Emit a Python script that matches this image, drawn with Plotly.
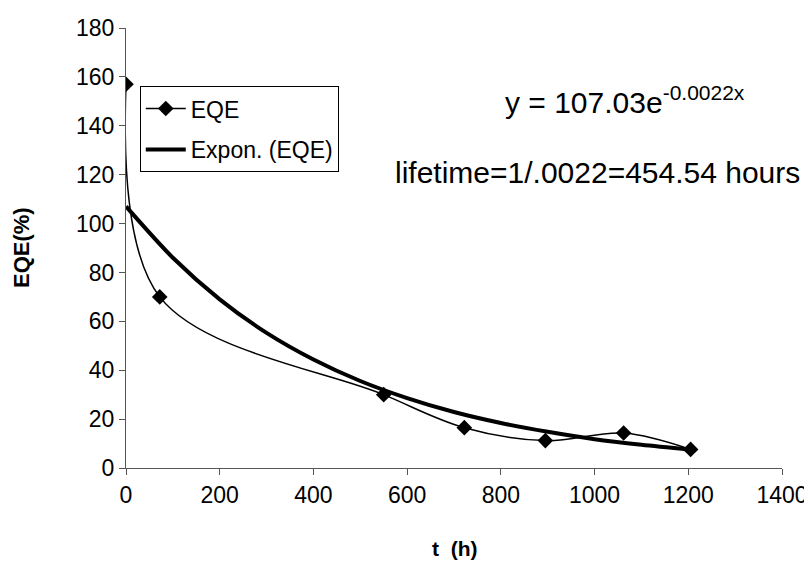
import plotly.graph_objects as go

# Measured EQE data
t_hours = [0, 72, 550, 722, 895, 1062, 1205]
eqe_pct = [157, 70, 30, 16.5, 11.2, 14.3, 7.6]

# Exponential trendline
trend_t = [0, 100, 200, 300, 400, 500, 600, 700, 800, 900, 1000, 1100, 1205]
trend_eqe = [107, 86, 69, 55.3, 44.4, 35.6, 28.6, 22.9, 18.4, 14.8, 11.8, 9.5, 7.5]

x_ticks = [0, 200, 400, 600, 800, 1000, 1200, 1400]
y_ticks = [0, 20, 40, 60, 80, 100, 120, 140, 160, 180]

FONT = "Liberation Sans, Arial, sans-serif"

fig = go.Figure()
fig.add_trace(go.Scatter(
    x=t_hours, y=eqe_pct, name="EQE", mode="lines+markers", legendgroup="a",
    line=dict(color="black", width=1.5, shape="spline", smoothing=1.0),
    marker=dict(symbol="diamond", size=12, color="black"),
))
fig.add_trace(go.Scatter(
    x=trend_t, y=trend_eqe, name="Expon. (EQE)", mode="lines", legendgroup="b",
    line=dict(color="black", width=4, shape="spline", smoothing=0.8),
))

fig.add_annotation(
    xref="x", yref="y", x=1064, y=150.5, showarrow=False,
    text="y = 107.03e<sup>-0.0022x</sup>",
    font=dict(family=FONT, size=30, color="black"),
)
fig.add_annotation(
    xref="x", yref="y", x=1006, y=121, showarrow=False,
    text="lifetime=1/.0022=454.54 hours",
    font=dict(family=FONT, size=30, color="black"),
)
# Axis titles
fig.add_annotation(
    xref="paper", yref="paper", x=0.5, y=-0.184, showarrow=False,
    xanchor="center", yanchor="middle",
    text="<b>t  (h)</b>", font=dict(family=FONT, size=21, color="black"),
)
fig.add_annotation(
    xref="paper", yref="paper", x=-0.16, y=0.5, showarrow=False, textangle=-90,
    xanchor="center", yanchor="middle",
    text="<b>EQE(%)</b>", font=dict(family=FONT, size=22, color="black"),
)

fig.update_layout(
    width=812, height=587,
    margin=dict(l=118, r=38, t=20, b=127),
    paper_bgcolor="white", plot_bgcolor="white",
    font=dict(family=FONT, size=23, color="black"),
    showlegend=True,
    legend=dict(
        x=0.021, y=0.868, xanchor="left", yanchor="top",
        bgcolor="white", bordercolor="black", borderwidth=1,
        font=dict(family=FONT, size=23, color="black"),
        tracegroupgap=8, itemwidth=40,
    ),
    xaxis=dict(
        range=[0, 1400], tickvals=x_ticks, showgrid=False, zeroline=False,
        showline=True, linecolor="#555", linewidth=1,
        ticks="outside", ticklen=6, tickcolor="#555",
        tickfont=dict(family=FONT, size=23), automargin=False,
    ),
    yaxis=dict(
        range=[0, 180], tickvals=y_ticks, showgrid=False, zeroline=False,
        showline=True, linecolor="#555", linewidth=1,
        ticks="outside", ticklen=6, tickcolor="#555",
        tickfont=dict(family=FONT, size=23), automargin=False,
    ),
)

fig.write_html("out.html")
